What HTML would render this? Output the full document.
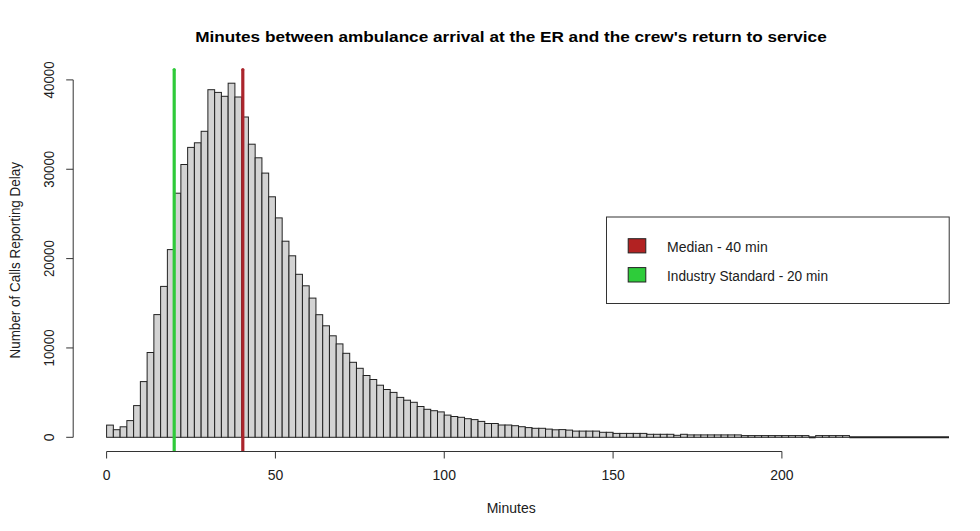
<!DOCTYPE html>
<html><head><meta charset="utf-8"><style>
html,body{margin:0;padding:0;background:#fff;width:980px;height:531px;overflow:hidden}
svg{display:block}
text{font-family:"Liberation Sans",sans-serif;fill:#202020}
</style></head><body>
<svg width="980" height="531" viewBox="0 0 980 531">
<rect width="980" height="531" fill="#fff"/>
<text x="511" y="42.4" text-anchor="middle" font-weight="bold" font-size="15.4" textLength="631.5" lengthAdjust="spacingAndGlyphs" style="fill:#000">Minutes between ambulance arrival at the ER and the crew's return to service</text>
<g fill="#d3d3d3" stroke="#222" stroke-width="1">
<rect x="106.60" y="425.10" width="6.75" height="12.20"/>
<rect x="113.35" y="429.70" width="6.75" height="7.60"/>
<rect x="120.11" y="426.80" width="6.75" height="10.50"/>
<rect x="126.86" y="420.60" width="6.75" height="16.70"/>
<rect x="133.61" y="405.60" width="6.75" height="31.70"/>
<rect x="140.37" y="381.60" width="6.75" height="55.70"/>
<rect x="147.12" y="352.50" width="6.75" height="84.80"/>
<rect x="153.87" y="314.60" width="6.75" height="122.70"/>
<rect x="160.62" y="286.40" width="6.75" height="150.90"/>
<rect x="167.38" y="249.60" width="6.75" height="187.70"/>
<rect x="174.13" y="193.20" width="6.75" height="244.10"/>
<rect x="180.88" y="164.50" width="6.75" height="272.80"/>
<rect x="187.64" y="147.40" width="6.75" height="289.90"/>
<rect x="194.39" y="142.80" width="6.75" height="294.50"/>
<rect x="201.14" y="131.30" width="6.75" height="306.00"/>
<rect x="207.89" y="89.70" width="6.75" height="347.60"/>
<rect x="214.65" y="92.40" width="6.75" height="344.90"/>
<rect x="221.40" y="96.30" width="6.75" height="341.00"/>
<rect x="228.15" y="83.20" width="6.75" height="354.10"/>
<rect x="234.91" y="97.00" width="6.75" height="340.30"/>
<rect x="241.66" y="117.00" width="6.75" height="320.30"/>
<rect x="248.41" y="144.20" width="6.75" height="293.10"/>
<rect x="255.17" y="157.80" width="6.75" height="279.50"/>
<rect x="261.92" y="173.10" width="6.75" height="264.20"/>
<rect x="268.67" y="196.80" width="6.75" height="240.50"/>
<rect x="275.42" y="217.90" width="6.75" height="219.40"/>
<rect x="282.18" y="241.20" width="6.75" height="196.10"/>
<rect x="288.93" y="255.80" width="6.75" height="181.50"/>
<rect x="295.68" y="274.30" width="6.75" height="163.00"/>
<rect x="302.44" y="285.80" width="6.75" height="151.50"/>
<rect x="309.19" y="298.10" width="6.75" height="139.20"/>
<rect x="315.94" y="314.70" width="6.75" height="122.60"/>
<rect x="322.70" y="325.80" width="6.75" height="111.50"/>
<rect x="329.45" y="335.80" width="6.75" height="101.50"/>
<rect x="336.20" y="343.90" width="6.75" height="93.40"/>
<rect x="342.96" y="353.30" width="6.75" height="84.00"/>
<rect x="349.71" y="362.30" width="6.75" height="75.00"/>
<rect x="356.46" y="368.30" width="6.75" height="69.00"/>
<rect x="363.21" y="375.50" width="6.75" height="61.80"/>
<rect x="369.97" y="379.50" width="6.75" height="57.80"/>
<rect x="376.72" y="385.20" width="6.75" height="52.10"/>
<rect x="383.47" y="389.50" width="6.75" height="47.80"/>
<rect x="390.23" y="392.40" width="6.75" height="44.90"/>
<rect x="396.98" y="397.40" width="6.75" height="39.90"/>
<rect x="403.73" y="400.20" width="6.75" height="37.10"/>
<rect x="410.49" y="402.30" width="6.75" height="35.00"/>
<rect x="417.24" y="406.50" width="6.75" height="30.80"/>
<rect x="423.99" y="409.30" width="6.75" height="28.00"/>
<rect x="430.74" y="410.70" width="6.75" height="26.60"/>
<rect x="437.50" y="411.90" width="6.75" height="25.40"/>
<rect x="444.25" y="415.10" width="6.75" height="22.20"/>
<rect x="451.00" y="416.50" width="6.75" height="20.80"/>
<rect x="457.76" y="417.30" width="6.75" height="20.00"/>
<rect x="464.51" y="418.70" width="6.75" height="18.60"/>
<rect x="471.26" y="419.60" width="6.75" height="17.70"/>
<rect x="478.01" y="421.40" width="6.75" height="15.90"/>
<rect x="484.77" y="423.50" width="6.75" height="13.80"/>
<rect x="491.52" y="423.50" width="6.75" height="13.80"/>
<rect x="498.27" y="425.00" width="6.75" height="12.30"/>
<rect x="505.03" y="425.00" width="6.75" height="12.30"/>
<rect x="511.78" y="425.70" width="6.75" height="11.60"/>
<rect x="518.53" y="426.70" width="6.75" height="10.60"/>
<rect x="525.29" y="427.60" width="6.75" height="9.70"/>
<rect x="532.04" y="428.30" width="6.75" height="9.00"/>
<rect x="538.79" y="428.30" width="6.75" height="9.00"/>
<rect x="545.54" y="429.10" width="6.75" height="8.20"/>
<rect x="552.30" y="429.80" width="6.75" height="7.50"/>
<rect x="559.05" y="429.60" width="6.75" height="7.70"/>
<rect x="565.80" y="430.10" width="6.75" height="7.20"/>
<rect x="572.56" y="431.10" width="6.75" height="6.20"/>
<rect x="579.31" y="431.10" width="6.75" height="6.20"/>
<rect x="586.06" y="431.10" width="6.75" height="6.20"/>
<rect x="592.82" y="431.10" width="6.75" height="6.20"/>
<rect x="599.57" y="432.30" width="6.75" height="5.00"/>
<rect x="606.32" y="432.30" width="6.75" height="5.00"/>
<rect x="613.08" y="433.40" width="6.75" height="3.90"/>
<rect x="619.83" y="433.40" width="6.75" height="3.90"/>
<rect x="626.58" y="433.40" width="6.75" height="3.90"/>
<rect x="633.33" y="433.40" width="6.75" height="3.90"/>
<rect x="640.09" y="433.40" width="6.75" height="3.90"/>
<rect x="646.84" y="434.30" width="6.75" height="3.00"/>
<rect x="653.59" y="434.30" width="6.75" height="3.00"/>
<rect x="660.35" y="434.30" width="6.75" height="3.00"/>
<rect x="667.10" y="434.30" width="6.75" height="3.00"/>
<rect x="673.85" y="435.30" width="6.75" height="2.00"/>
<rect x="680.61" y="434.30" width="6.75" height="3.00"/>
<rect x="687.36" y="434.90" width="6.75" height="2.40"/>
<rect x="694.11" y="434.90" width="6.75" height="2.40"/>
<rect x="700.86" y="434.90" width="6.75" height="2.40"/>
<rect x="707.62" y="434.90" width="6.75" height="2.40"/>
<rect x="714.37" y="434.90" width="6.75" height="2.40"/>
<rect x="721.12" y="434.90" width="6.75" height="2.40"/>
<rect x="727.88" y="434.90" width="6.75" height="2.40"/>
<rect x="734.63" y="434.90" width="6.75" height="2.40"/>
<rect x="741.38" y="435.60" width="6.75" height="1.70"/>
<rect x="748.13" y="435.60" width="6.75" height="1.70"/>
<rect x="754.89" y="435.60" width="6.75" height="1.70"/>
<rect x="761.64" y="435.60" width="6.75" height="1.70"/>
<rect x="768.39" y="435.60" width="6.75" height="1.70"/>
<rect x="775.15" y="435.60" width="6.75" height="1.70"/>
<rect x="781.90" y="435.60" width="6.75" height="1.70"/>
<rect x="788.65" y="435.60" width="6.75" height="1.70"/>
<rect x="795.41" y="435.60" width="6.75" height="1.70"/>
<rect x="802.16" y="435.60" width="6.75" height="1.70"/>
<rect x="808.91" y="437.30" width="6.75" height="0.00"/>
<rect x="815.67" y="435.60" width="6.75" height="1.70"/>
<rect x="822.42" y="435.60" width="6.75" height="1.70"/>
<rect x="829.17" y="435.60" width="6.75" height="1.70"/>
<rect x="835.92" y="435.60" width="6.75" height="1.70"/>
<rect x="842.68" y="435.60" width="6.75" height="1.70"/>
<rect x="849.43" y="437.30" width="6.75" height="0.00"/>
<rect x="856.18" y="437.30" width="6.75" height="0.00"/>
<rect x="862.94" y="437.30" width="6.75" height="0.00"/>
<rect x="869.69" y="437.30" width="6.75" height="0.00"/>
<rect x="876.44" y="437.30" width="6.75" height="0.00"/>
<rect x="883.20" y="437.30" width="6.75" height="0.00"/>
<rect x="889.95" y="437.30" width="6.75" height="0.00"/>
<rect x="896.70" y="437.30" width="6.75" height="0.00"/>
<rect x="903.45" y="437.30" width="6.75" height="0.00"/>
<rect x="910.21" y="437.30" width="6.75" height="0.00"/>
<rect x="916.96" y="437.30" width="6.75" height="0.00"/>
<rect x="923.71" y="437.30" width="6.75" height="0.00"/>
<rect x="930.47" y="437.30" width="6.75" height="0.00"/>
<rect x="937.22" y="437.30" width="6.75" height="0.00"/>
<rect x="943.97" y="437.30" width="6.75" height="0.00"/>
<line x1="849.43" y1="437.3" x2="949" y2="437.3" stroke-width="2"/>
<line x1="808.91" y1="437.3" x2="815.67" y2="437.3" stroke-width="2"/>
</g>
<line x1="174.2" y1="69.5" x2="174.2" y2="451" stroke="#2fca3a" stroke-width="3.2"/><circle cx="174.2" cy="69.5" r="1.6" fill="#2fca3a"/>
<line x1="242.8" y1="69.5" x2="242.8" y2="451" stroke="#ab252c" stroke-width="3.2"/><circle cx="242.8" cy="69.5" r="1.6" fill="#ab252c"/>
<g stroke="#333" stroke-width="1" fill="none">
<line x1="73.2" y1="79.9" x2="73.2" y2="437.3"/>
<line x1="106.6" y1="451.5" x2="781.9" y2="451.5"/>
</g>
<g stroke="#333" stroke-width="1">
<line x1="66.2" y1="437.30" x2="73.2" y2="437.30"/>
<line x1="66.2" y1="347.95" x2="73.2" y2="347.95"/>
<line x1="66.2" y1="258.60" x2="73.2" y2="258.60"/>
<line x1="66.2" y1="169.25" x2="73.2" y2="169.25"/>
<line x1="66.2" y1="79.90" x2="73.2" y2="79.90"/>
<line x1="106.60" y1="451.5" x2="106.60" y2="458.5"/>
<line x1="275.42" y1="451.5" x2="275.42" y2="458.5"/>
<line x1="444.25" y1="451.5" x2="444.25" y2="458.5"/>
<line x1="613.08" y1="451.5" x2="613.08" y2="458.5"/>
<line x1="781.90" y1="451.5" x2="781.90" y2="458.5"/>
</g>
<g font-size="14">
<text transform="translate(54.3 437.30) rotate(-90)" text-anchor="middle">0</text>
<text transform="translate(54.3 347.95) rotate(-90)" text-anchor="middle" textLength="37" lengthAdjust="spacingAndGlyphs">10000</text>
<text transform="translate(54.3 258.60) rotate(-90)" text-anchor="middle" textLength="37" lengthAdjust="spacingAndGlyphs">20000</text>
<text transform="translate(54.3 169.25) rotate(-90)" text-anchor="middle" textLength="37" lengthAdjust="spacingAndGlyphs">30000</text>
<text transform="translate(54.3 79.90) rotate(-90)" text-anchor="middle" textLength="37" lengthAdjust="spacingAndGlyphs">40000</text>
<text x="106.60" y="480.1" text-anchor="middle">0</text>
<text x="275.42" y="480.1" text-anchor="middle">50</text>
<text x="444.25" y="480.1" text-anchor="middle">100</text>
<text x="613.08" y="480.1" text-anchor="middle">150</text>
<text x="781.90" y="480.1" text-anchor="middle">200</text>
<text x="511.2" y="512.8" text-anchor="middle">Minutes</text>
<text transform="translate(20.4 260.3) rotate(-90)" text-anchor="middle" textLength="196.5" lengthAdjust="spacingAndGlyphs">Number of Calls Reporting Delay</text>
</g>
<rect x="606.5" y="217" width="342.7" height="86.5" fill="#fff" stroke="#333" stroke-width="1"/>
<rect x="628.2" y="238.7" width="17.6" height="14.2" fill="#b22222" stroke="#222" stroke-width="1"/>
<rect x="628.2" y="267.6" width="17.6" height="14.4" fill="#2ecc3a" stroke="#222" stroke-width="1"/>
<g font-size="14">
<text x="667" y="251.7" textLength="100.7" lengthAdjust="spacingAndGlyphs">Median - 40 min</text>
<text x="667" y="280.6" textLength="161" lengthAdjust="spacingAndGlyphs">Industry Standard - 20 min</text>
</g>
</svg>
</body></html>
